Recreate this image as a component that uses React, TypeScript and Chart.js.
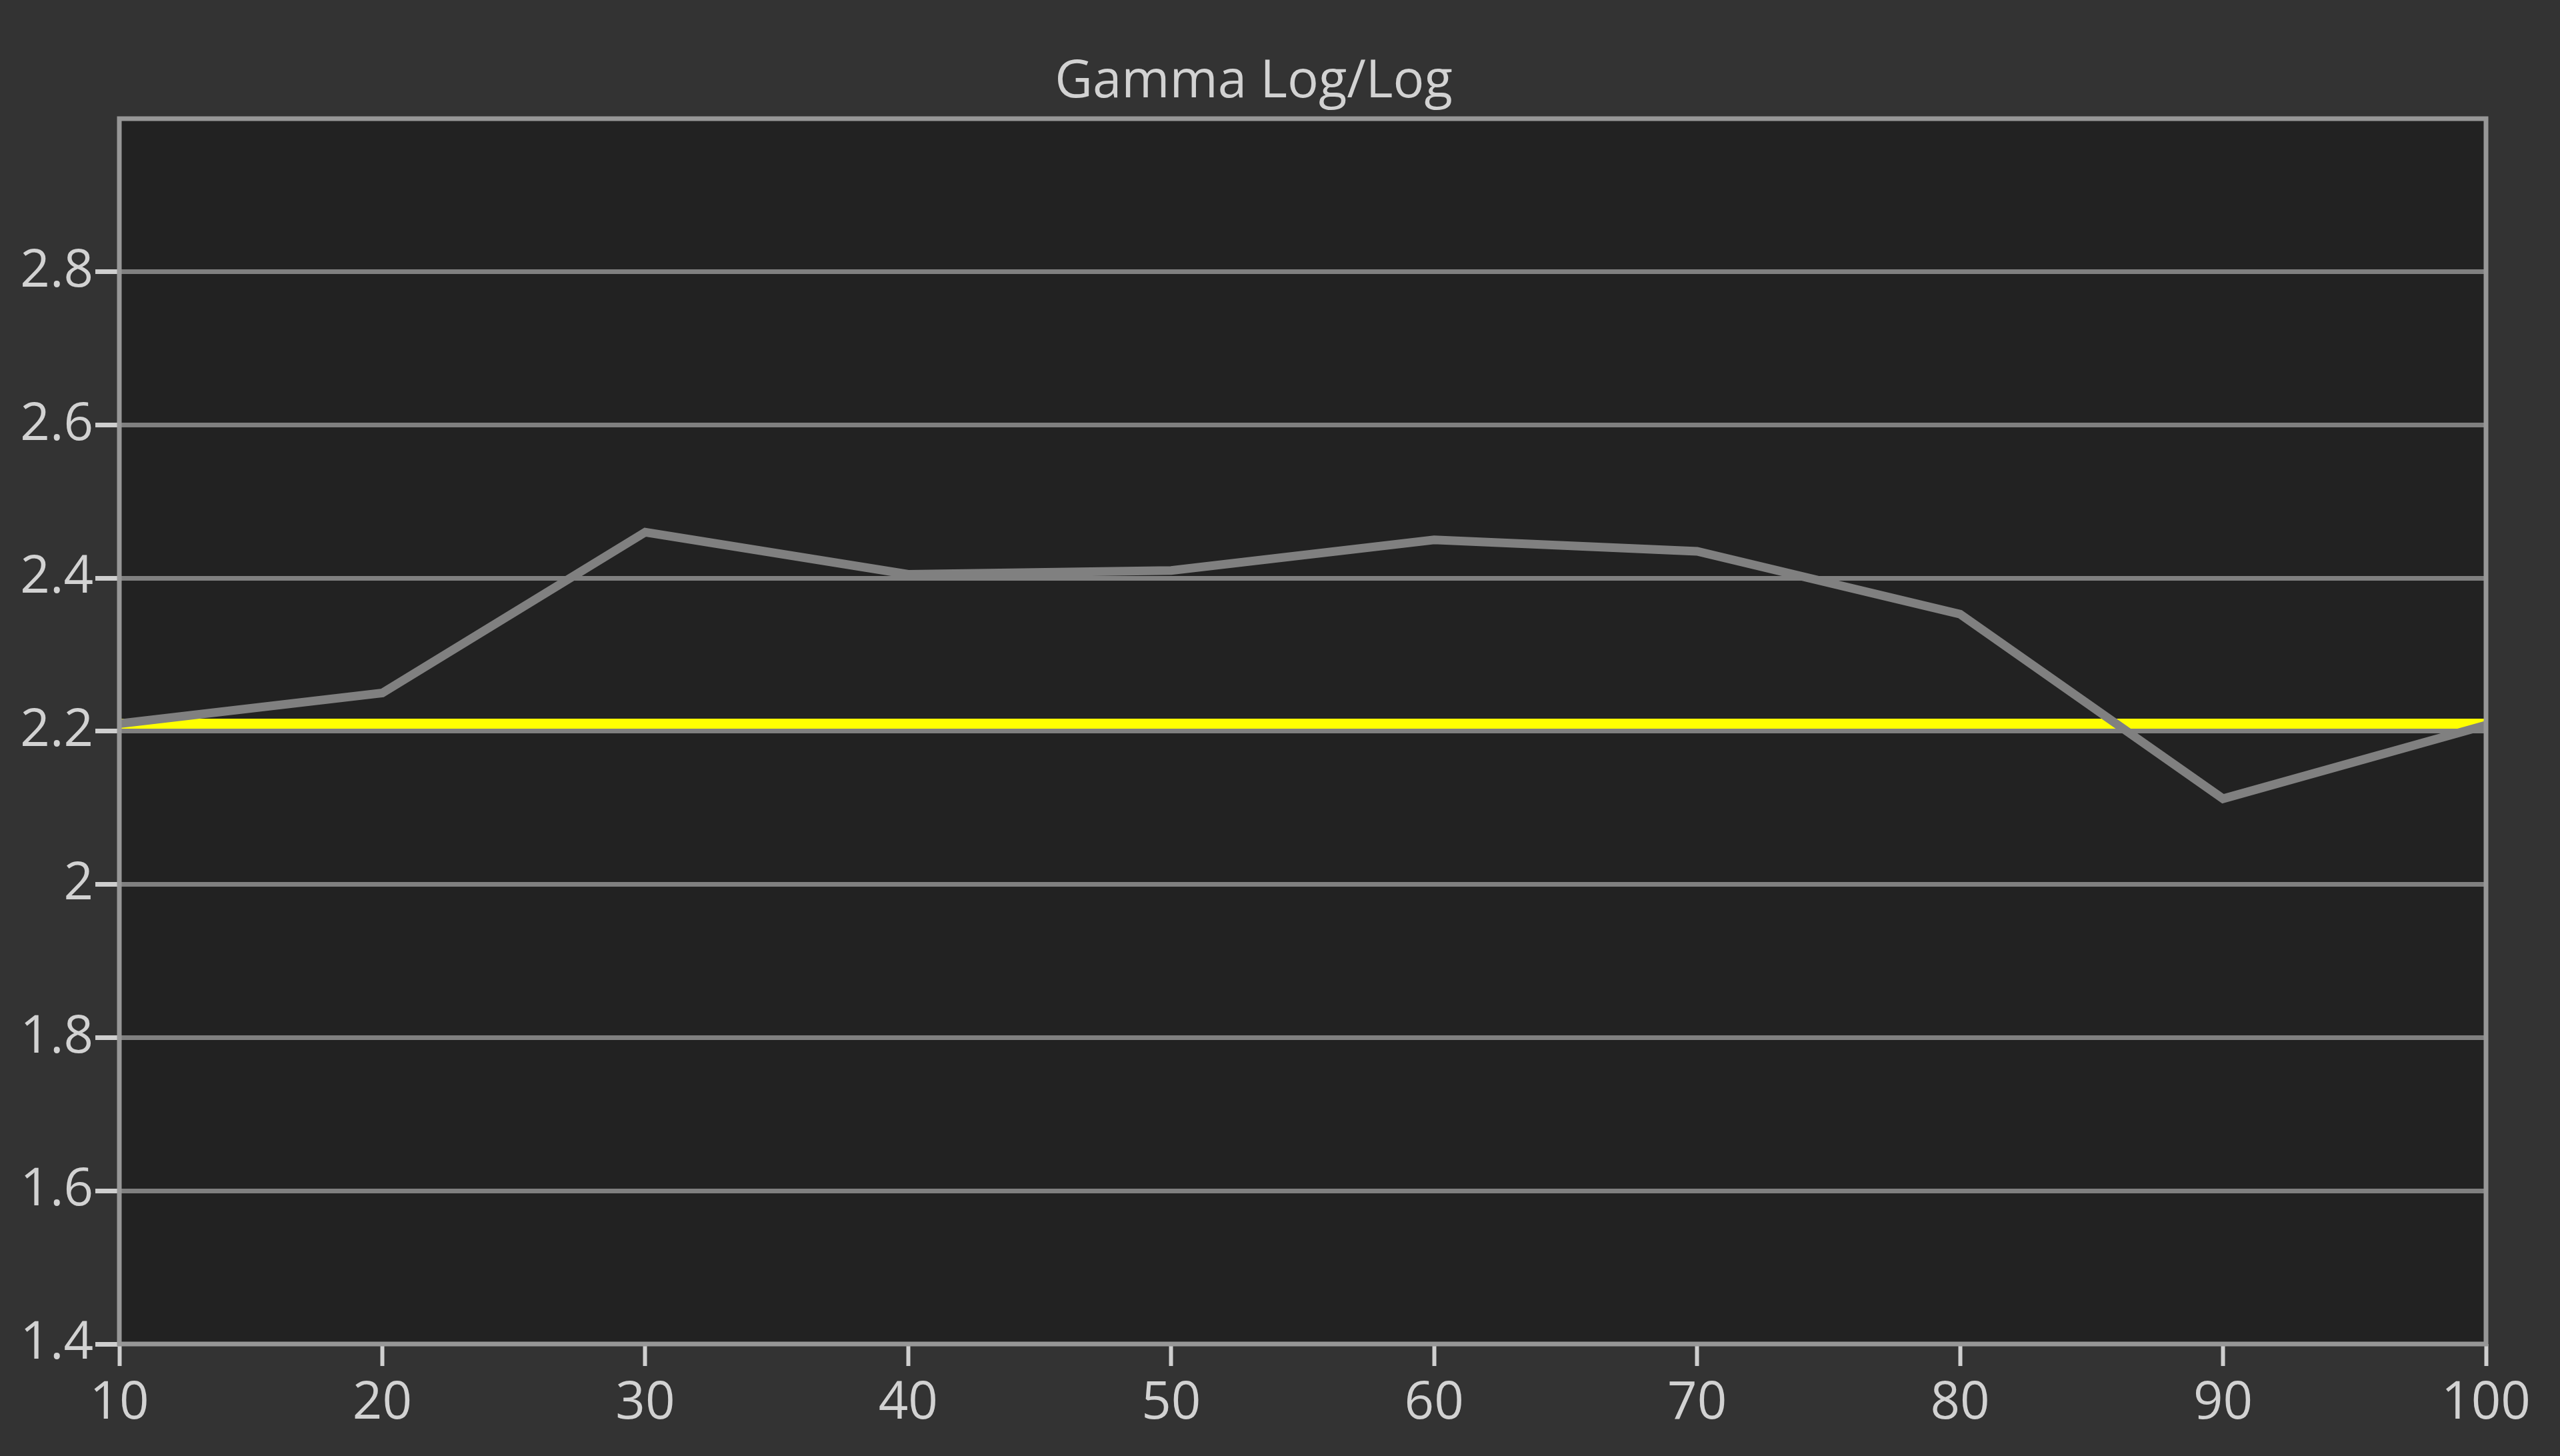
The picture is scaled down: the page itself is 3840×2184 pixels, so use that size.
import React, { useEffect, useRef } from "react";
import { Chart, registerables } from "chart.js";

Chart.register(...registerables);

const TITLE = "Gamma Log/Log";
const xLabels = ["10", "20", "30", "40", "50", "60", "70", "80", "90", "100"];
const measuredGamma = [2.21, 2.25, 2.46, 2.405, 2.41, 2.45, 2.435, 2.353, 2.112, 2.208];
const targetGamma = [2.21, 2.21, 2.21, 2.21, 2.21, 2.21, 2.21, 2.21, 2.21, 2.21];
const yMin = 1.4;
const yMax = 3.0;
const yStep = 0.2;

const FONT = "'Open Sans', 'Noto Sans', sans-serif";
const TEXT = "#d2d2d2";

const plotFrame = {
  id: "plotFrame",
  beforeDraw(chart: any) {
    const { ctx, chartArea } = chart;
    ctx.save();
    ctx.fillStyle = "#222222";
    ctx.fillRect(chartArea.left, chartArea.top, chartArea.right - chartArea.left, chartArea.bottom - chartArea.top);
    ctx.restore();
  },
  afterDraw(chart: any) {
    const { ctx, chartArea } = chart;
    ctx.save();
    ctx.strokeStyle = "#979797";
    ctx.lineWidth = 7;
    ctx.strokeRect(chartArea.left, chartArea.top, chartArea.right - chartArea.left, chartArea.bottom - chartArea.top);
    ctx.restore();
  },
};

export default function App() {
  const ref = useRef<HTMLCanvasElement | null>(null);
  useEffect(() => {
    document.body.style.margin = "0";
    const canvas = ref.current;
    if (!canvas) return;
    const chart = new Chart(canvas, {
      type: "line",
      data: {
        labels: xLabels,
        datasets: [
          {
            label: "Measured",
            data: measuredGamma,
            borderColor: "#808080",
            borderWidth: 13,
            pointRadius: 0,
            tension: 0,
            order: 0,
            borderJoinStyle: "miter",
          },
          {
            label: "Target",
            data: targetGamma,
            borderColor: "#ffff00",
            borderWidth: 15,
            pointRadius: 0,
            tension: 0,
            order: 1,
          },
        ],
      },
      options: {
        animation: false,
        responsive: true,
        maintainAspectRatio: false,
        devicePixelRatio: 1,
        layout: { padding: { left: 32, right: 111, top: 0, bottom: 0 } },
        plugins: {
          legend: { display: false },
          tooltip: { enabled: false },
          title: {
            display: true,
            text: TITLE,
            color: TEXT,
            font: { family: FONT, size: 78, weight: "normal", lineHeight: 1.2 },
            padding: { top: 77, bottom: 7.4 },
          },
        },
        scales: {
          x: {
            type: "category",
            offset: false,
            afterFit: (scale: any) => {
              scale.height = 168;
            },
            grid: {
              drawOnChartArea: false,
              drawTicks: true,
              tickLength: 33,
              tickWidth: 6,
              tickColor: "#cfcfcf",
            },
            border: { display: false },
            ticks: {
              color: TEXT,
              font: { family: FONT, size: 78 },
              padding: 10,
              maxRotation: 0,
              autoSkip: false,
            },
          },
          y: {
            type: "linear",
            min: yMin,
            max: yMax,
            afterFit: (scale: any) => {
              scale.width = 147;
            },
            grid: {
              color: (c: any) => {
                const v = c.tick ? c.tick.value : 0;
                if (v > 2.99 || v < 1.41) return "rgba(0,0,0,0)";
                return "#808080";
              },
              lineWidth: 7,
              drawTicks: true,
              tickLength: 36,
              tickWidth: 7,
              tickColor: (c: any) => {
                const v = c.tick ? c.tick.value : 0;
                return v > 2.99 ? "rgba(0,0,0,0)" : "#cfcfcf";
              },
            },
            border: { display: false },
            ticks: {
              stepSize: yStep,
              color: TEXT,
              font: { family: FONT, size: 78 },
              padding: 3,
              callback: (value: any) => {
                const v = Math.round(Number(value) * 10) / 10;
                if (v > 2.99) return "";
                return String(v);
              },
            },
          },
        },
      },
      plugins: [plotFrame],
    });
    return () => chart.destroy();
  }, []);

  return (
    <div style={{ position: "absolute", left: 0, top: 0, width: 3840, height: 2184, background: "#333333" }}>
      <canvas ref={ref} />
    </div>
  );
}
